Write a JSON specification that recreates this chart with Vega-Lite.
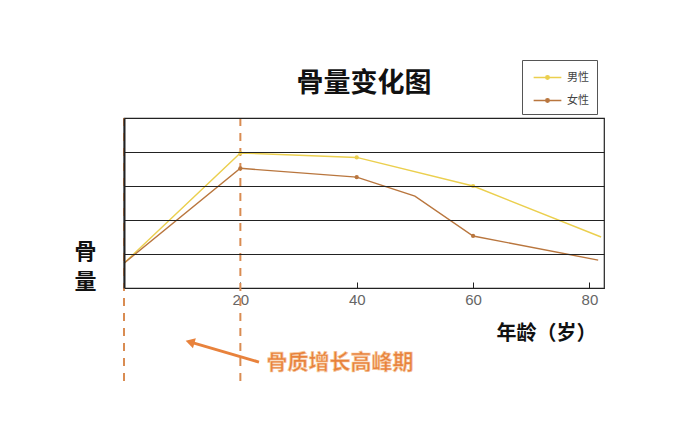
{
  "$schema": "https://vega.github.io/schema/vega-lite/v6.json",
  "autosize": {"type": "none"},
  "width": 480,
  "height": 170,
  "padding": {"left": 124, "top": 118, "right": 70, "bottom": 141},
  "background": "white",
  "title": {
    "text": "骨量变化图",
    "font": "Noto Sans CJK SC",
    "fontWeight": "bold",
    "fontSize": 27,
    "color": "#111",
    "anchor": "middle",
    "offset": 22,
    "dy": 60
  },
  "datasets": {
    "bone": [
      {"sex": "男性", "age": 0, "mass": 0.73},
      {"sex": "男性", "age": 20, "mass": 3.97},
      {"sex": "男性", "age": 40, "mass": 3.84},
      {"sex": "男性", "age": 60, "mass": 3.0},
      {"sex": "男性", "age": 82, "mass": 1.5},
      {"sex": "女性", "age": 0, "mass": 0.73},
      {"sex": "女性", "age": 20, "mass": 3.52},
      {"sex": "女性", "age": 40, "mass": 3.26},
      {"sex": "女性", "age": 50, "mass": 2.7},
      {"sex": "女性", "age": 60, "mass": 1.53},
      {"sex": "女性", "age": 81.5, "mass": 0.82}
    ],
    "marks": [
      {"age": 0, "top": 5, "bottom": -2.85},
      {"age": 20, "top": 5, "bottom": -2.85}
    ],
    "arrow": [
      {"x1": 23.2, "y1": -2.18, "x2": 11.6, "y2": -1.6}
    ],
    "note": [
      {"age": 24.5, "mass": -2.2, "label": "骨质增长高峰期"}
    ]
  },
  "layer": [
    {
      "data": {"name": "marks"},
      "mark": {"type": "rule", "color": "#d98c52", "strokeWidth": 2, "strokeDash": [8, 7]},
      "encoding": {
        "x": {"field": "age", "type": "quantitative"},
        "y": {"field": "top", "type": "quantitative"},
        "y2": {"field": "bottom"}
      }
    },
    {
      "data": {"name": "bone"},
      "mark": {"type": "line", "strokeWidth": 1.4},
      "encoding": {
        "x": {
          "field": "age",
          "type": "quantitative",
          "scale": {"domain": [0, 82.5], "nice": false},
          "axis": {
            "values": [0, 20, 40, 60, 80],
            "labelExpr": "datum.value == 0 ? '' : datum.label",
            "grid": false,
            "domainColor": "#222",
            "tickColor": "#222",
            "tickSize": -6,
            "labelPadding": 10,
            "labelColor": "#666",
            "labelFont": "Liberation Sans",
            "labelFontSize": 15,
            "title": "年龄（岁）",
            "titleFont": "Noto Sans CJK SC",
            "titleFontWeight": "bold",
            "titleFontSize": 20,
            "titleColor": "#111",
            "titleAlign": "center",
            "titleBaseline": "middle",
            "titleX": 422,
            "titleY": 45
          }
        },
        "y": {
          "field": "mass",
          "type": "quantitative",
          "scale": {"domain": [0, 5], "nice": false},
          "axis": {
            "values": [1, 2, 3, 4, 5],
            "labels": false,
            "ticks": false,
            "grid": true,
            "gridColor": "#222",
            "gridOpacity": 1,
            "domainColor": "#222",
            "domainWidth": 2,
            "zindex": 1,
            "title": ["骨", "量"],
            "titleFont": "Noto Sans CJK SC",
            "titleFontWeight": "bold",
            "titleFontSize": 22,
            "titleLineHeight": 30,
            "titleColor": "#111",
            "titleAngle": 0,
            "titleAlign": "center",
            "titleBaseline": "middle",
            "titleX": -39,
            "titleY": 133
          }
        },
        "color": {
          "field": "sex",
          "type": "nominal",
          "scale": {"domain": ["男性", "女性"], "range": ["#ebcf4e", "#b9763e"]},
          "legend": {
            "title": null,
            "orient": "none",
            "legendX": 398,
            "legendY": -58,
            "symbolType": "M-1.6,0H-0.2M0.2,0H1.6M-0.2,0A0.2,0.2,0,1,1,0.2,0A0.2,0.2,0,1,1,-0.2,0",
            "symbolSize": 300,
            "symbolStrokeWidth": 1.5,
            "symbolOffset": 8,
            "labelFont": "Noto Sans CJK SC",
            "labelFontSize": 11,
            "labelColor": "#444",
            "labelOffset": 10,
            "rowPadding": 8,
            "padding": 8,
            "strokeColor": "#555",
            "fillColor": "white"
          }
        }
      }
    },
    {
      "data": {"name": "bone"},
      "transform": [{"filter": "datum.age >= 20 && datum.age <= 60 && datum.age != 50"}],
      "mark": {"type": "circle", "size": 18, "opacity": 1},
      "encoding": {
        "x": {"field": "age", "type": "quantitative"},
        "y": {"field": "mass", "type": "quantitative"},
        "color": {"field": "sex", "type": "nominal"}
      }
    },
    {
      "data": {"name": "arrow"},
      "mark": {"type": "rule", "color": "#e8823c", "strokeWidth": 3},
      "encoding": {
        "x": {"field": "x1", "type": "quantitative"},
        "y": {"field": "y1", "type": "quantitative"},
        "x2": {"field": "x2"},
        "y2": {"field": "y2"}
      }
    },
    {
      "data": {"name": "arrow"},
      "mark": {"type": "point", "shape": "triangle", "filled": true, "size": 110, "angle": 286, "color": "#e8823c", "opacity": 1},
      "encoding": {
        "x": {"field": "x2", "type": "quantitative"},
        "y": {"field": "y2", "type": "quantitative"}
      }
    },
    {
      "data": {"name": "note"},
      "mark": {
        "type": "text",
        "align": "left",
        "baseline": "middle",
        "font": "Noto Sans CJK SC",
        "fontWeight": "bold",
        "fontSize": 21,
        "color": "#e8823c",
        "stroke": "#f6c9a0",
        "strokeWidth": 0.6
      },
      "encoding": {
        "x": {"field": "age", "type": "quantitative"},
        "y": {"field": "mass", "type": "quantitative"},
        "text": {"field": "label"}
      }
    }
  ],
  "config": {
    "view": {"stroke": "#222", "strokeWidth": 1.2}
  }
}
